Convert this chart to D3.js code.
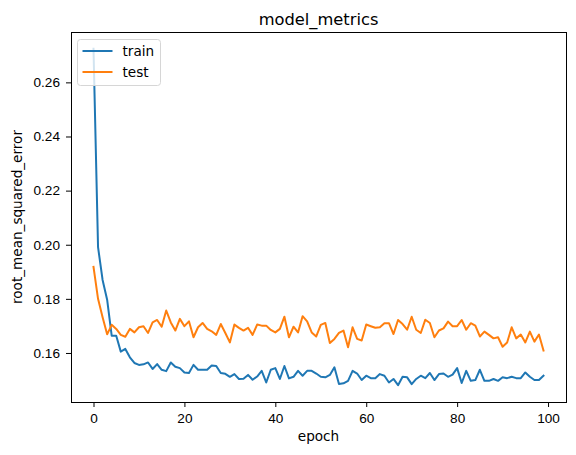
<!DOCTYPE html>
<html>
<head>
<meta charset="utf-8">
<script src="https://cdn.jsdelivr.net/npm/d3@7"></script>
<style>
  body { margin: 0; background: #fff; }
  svg { font-family: "DejaVu Sans", sans-serif; }
  .axis text { font-size: 13.6px; fill: #000; }
  .axis path, .axis line { stroke: #000; stroke-width: 1; }
</style>
</head>
<body>
<div id="chart"></div>
<script>
// root_mean_squared_error per epoch
const train = [
  0.2724, 0.1991, 0.1870, 0.1797, 0.1664, 0.1664, 0.1605, 0.1615, 0.1584, 0.1563,
  0.1556, 0.1558, 0.1565, 0.1541, 0.1559, 0.1538, 0.1533, 0.1565, 0.1549, 0.1544,
  0.1528, 0.1526, 0.1556, 0.1538, 0.1538, 0.1538, 0.1554, 0.1552, 0.1526, 0.1523,
  0.1512, 0.1522, 0.1504, 0.1505, 0.1519, 0.1501, 0.1513, 0.1534, 0.1491, 0.1538,
  0.1544, 0.1504, 0.1552, 0.1506, 0.1512, 0.1534, 0.1516, 0.1534, 0.1534, 0.1524,
  0.1512, 0.1510, 0.1519, 0.1547, 0.1485, 0.1488, 0.1497, 0.1534, 0.1524, 0.1500,
  0.1516, 0.1507, 0.1507, 0.1522, 0.1516, 0.1491, 0.1504, 0.1481, 0.1512, 0.1510,
  0.1485, 0.1504, 0.1516, 0.1507, 0.1526, 0.1500, 0.1522, 0.1524, 0.1512, 0.1520,
  0.1544, 0.1489, 0.1534, 0.1497, 0.1500, 0.1538, 0.1497, 0.1497, 0.1504, 0.1497,
  0.1510, 0.1507, 0.1512, 0.1507, 0.1507, 0.1528, 0.1512, 0.1500, 0.1500, 0.1516
]
const test = [
  0.1918, 0.1800, 0.1732, 0.1669, 0.1704, 0.1689, 0.1667, 0.1660, 0.1689, 0.1676,
  0.1695, 0.1699, 0.1674, 0.1713, 0.1722, 0.1697, 0.1757, 0.1713, 0.1683, 0.1726,
  0.1699, 0.1717, 0.1658, 0.1695, 0.1711, 0.1689, 0.1680, 0.1667, 0.1707, 0.1674,
  0.1639, 0.1705, 0.1693, 0.1683, 0.1693, 0.1667, 0.1705, 0.1701, 0.1701, 0.1685,
  0.1676, 0.1689, 0.1734, 0.1658, 0.1697, 0.1676, 0.1736, 0.1717, 0.1676, 0.1661,
  0.1704, 0.1711, 0.1637, 0.1652, 0.1674, 0.1683, 0.1621, 0.1695, 0.1652, 0.1646,
  0.1705, 0.1699, 0.1693, 0.1695, 0.1710, 0.1710, 0.1670, 0.1722, 0.1707, 0.1686,
  0.1734, 0.1686, 0.1674, 0.1723, 0.1711, 0.1658, 0.1683, 0.1691, 0.1716, 0.1699,
  0.1699, 0.1722, 0.1686, 0.1710, 0.1701, 0.1661, 0.1679, 0.1667, 0.1654, 0.1658,
  0.1623, 0.1639, 0.1695, 0.1654, 0.1668, 0.1639, 0.1679, 0.1642, 0.1668, 0.1609
]
const seriesNames = ['train', 'test']
const colors = ['#1f77b4', '#ff7f0e']
const xTicks = [0, 20, 40, 60, 80, 100]
const yTicks = [0.16, 0.18, 0.20, 0.22, 0.24, 0.26]

const W = 576, H = 455
const margin = { top: 32, right: 10, bottom: 53, left: 71 }
const width = W - margin.left - margin.right
const height = H - margin.top - margin.bottom

const svg = d3.select('#chart').append('svg')
  .attr('width', W)
  .attr('height', H)

const g = svg.append('g')
  .attr('transform', 'translate(' + margin.left + ',' + margin.top + ')')

// matplotlib style 5% padding around the data
const n = train.length
const xPad = (n - 1) * 0.05
const yMin = d3.min([d3.min(train), d3.min(test)])
const yMax = d3.max([d3.max(train), d3.max(test)])
const yPad = (yMax - yMin) * 0.05

const x = d3.scaleLinear()
  .domain([-xPad, n - 1 + xPad])
  .range([0, width])

const y = d3.scaleLinear()
  .domain([yMin - yPad, yMax + yPad])
  .range([height, 0])

const line = d3.line()
  .x((d, i) => x(i))
  .y(d => y(d))

g.append('defs').append('clipPath')
  .attr('id', 'plot-clip')
  .append('rect')
  .attr('width', width)
  .attr('height', height)

const plot = g.append('g').attr('clip-path', 'url(#plot-clip)')

;[train, test].forEach((series, i) => {
  plot.append('path')
    .datum(series)
    .attr('fill', 'none')
    .attr('stroke', colors[i])
    .attr('stroke-width', 2)
    .attr('stroke-linejoin', 'round')
    .attr('stroke-linecap', 'square')
    .attr('d', line)
})

// axes
g.append('g')
  .classed('x axis', true)
  .attr('transform', 'translate(0,' + height + ')')
  .call(d3.axisBottom(x).tickValues(xTicks).tickSize(5).tickPadding(6).tickFormat(d3.format('d')))
  .call(s => s.select('.domain').remove())

g.append('g')
  .classed('y axis', true)
  .call(d3.axisLeft(y).tickValues(yTicks).tickSize(5).tickPadding(6).tickFormat(d3.format('.2f')))
  .call(s => s.select('.domain').remove())

// frame
g.append('rect')
  .attr('width', width)
  .attr('height', height)
  .attr('fill', 'none')
  .attr('stroke', '#000')
  .attr('stroke-width', 1)
  .attr('shape-rendering', 'crispEdges')

// labels
svg.append('text')
  .attr('x', margin.left + width / 2)
  .attr('y', 25)
  .attr('text-anchor', 'middle')
  .style('font-size', '16.3px')
  .text('model_metrics')

svg.append('text')
  .attr('x', margin.left + width / 2)
  .attr('y', 441)
  .attr('text-anchor', 'middle')
  .style('font-size', '13.6px')
  .text('epoch')

svg.append('text')
  .attr('transform', 'translate(21.5,' + (margin.top + height / 2) + ') rotate(-90)')
  .attr('text-anchor', 'middle')
  .style('font-size', '13.6px')
  .text('root_mean_squared_error')

// legend
const legend = g.append('g')
  .attr('transform', 'translate(6.5,7.5)')

legend.append('rect')
  .attr('width', 83)
  .attr('height', 46)
  .attr('rx', 3)
  .attr('fill', 'rgba(255,255,255,0.8)')
  .attr('stroke', '#d6d6d6')
  .attr('stroke-width', 1)

const item = legend.selectAll('.item')
  .data(seriesNames)
  .enter()
  .append('g')
  .attr('class', 'item')
  .attr('transform', (d, i) => 'translate(0,' + (11.5 + i * 21) + ')')

item.append('line')
  .attr('x1', 5)
  .attr('x2', 35)
  .attr('stroke', (d, i) => colors[i])
  .attr('stroke-width', 2)

item.append('text')
  .attr('x', 45)
  .attr('dy', '0.35em')
  .style('font-size', '13.6px')
  .text(d => d)
</script>
</body>
</html>
